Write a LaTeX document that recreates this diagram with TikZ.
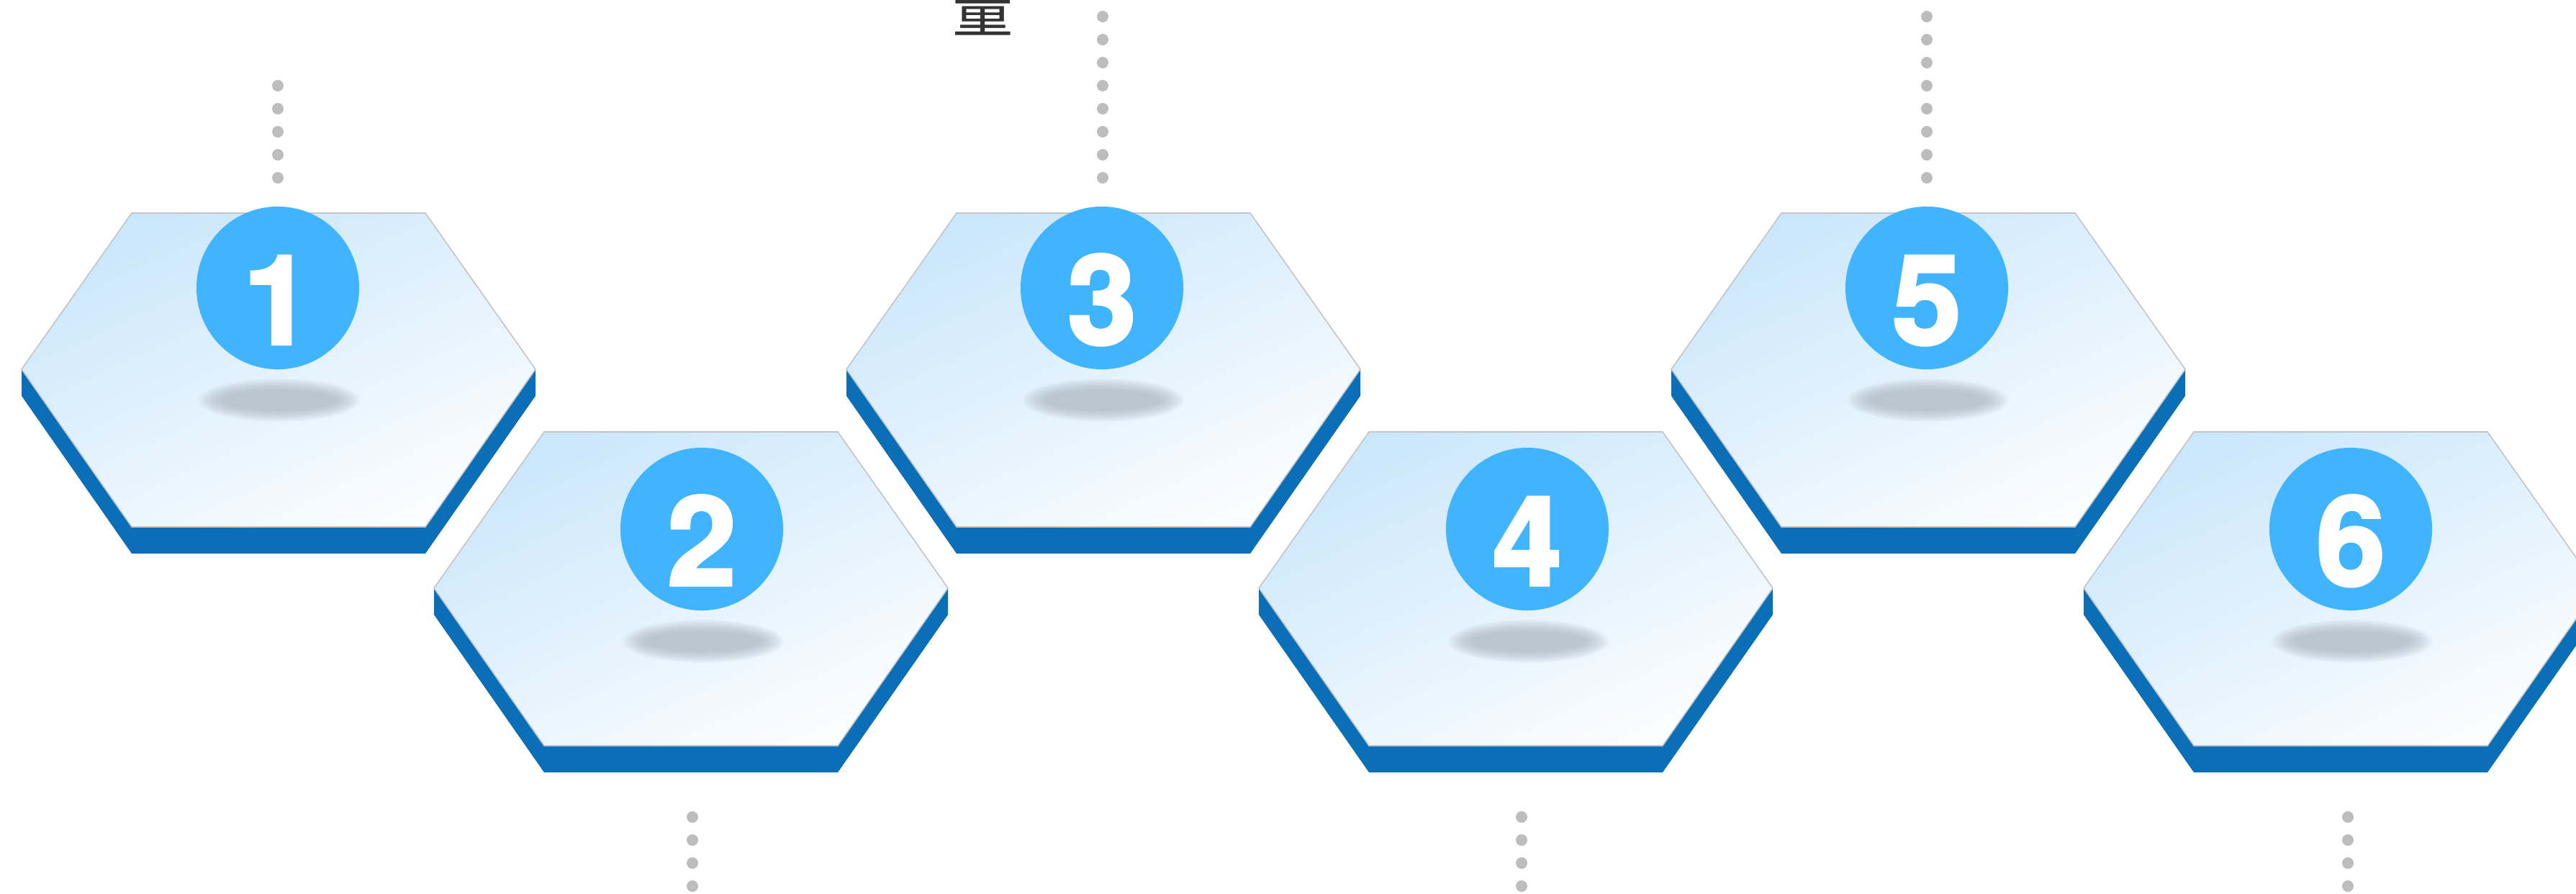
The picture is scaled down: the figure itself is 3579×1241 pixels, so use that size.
\documentclass[tikz,border=0pt]{standalone}
\usepackage{fontspec}
\newfontfamily\numfont{TeX Gyre Heros}[BoldFeatures={FakeBold=2.5}]
\newfontfamily\cjk{Noto Sans CJK SC}
\definecolor{sideblue}{HTML}{0A6FB6}
\definecolor{numblue}{HTML}{40B4FF}
\definecolor{faceTop}{HTML}{CBE7FB}
\definecolor{faceBot}{HTML}{FBFDFF}
\definecolor{hexline}{HTML}{C4C4C4}
\definecolor{dotgray}{HTML}{BDBDBD}
\definecolor{shadowcol}{HTML}{A5AFB9}
\definecolor{txtgray}{HTML}{333333}
\tikzset{
  hexface/.style={draw=hexline, line width=0.45pt, top color=faceTop, bottom color=faceBot, shading angle=25},
  hexside/.style={fill=sideblue},
  numcirc/.style={circle, fill=numblue, minimum size=2.26cm, inner sep=0pt},
  numtext/.style={text=white, anchor=base, inner sep=0pt,
    font=\numfont\bfseries\fontsize{49pt}{49pt}\selectfont},
  dotstyle/.style={fill=dotgray},
  shadowstyle/.style={fill=shadowcol, opacity=0.065}
}
\begin{document}
\begin{tikzpicture}[x=0.01cm,y=-0.01cm]
\useasboundingbox (0,0) rectangle (3579,1241);
\clip (0,0) rectangle (3579,1241);
\fill[white] (0,0) rectangle (3579,1241);
% hexagons
\foreach \i/\cx/\ty in {1/387/296, 2/960/600, 3/1533/296, 4/2106/600, 5/2679/296, 6/3252/600}{
  \fill[hexside] (\cx-357,\ty+217) -- (\cx-204,\ty+436) -- (\cx+204,\ty+436) -- (\cx+357,\ty+217)
     -- (\cx+357,\ty+254) -- (\cx+204,\ty+473) -- (\cx-204,\ty+473) -- (\cx-357,\ty+254) -- cycle;
  \shade[hexface] (\cx-204,\ty) -- (\cx+204,\ty) -- (\cx+357,\ty+217) -- (\cx+204,\ty+436)
     -- (\cx-204,\ty+436) -- (\cx-357,\ty+217) -- cycle;
}
% shadows and number circles
\foreach \i/\x/\y in {1/386/400, 2/975/735, 3/1531/400, 4/2122/735, 5/2677/400, 6/3266/735}{
  \foreach \k in {0,...,13}{
    \fill[shadowstyle] (\x+2,\y+156) ellipse ({112-2.6*\k} and {30-1.3*\k});
  }
  \node[numcirc] (c\i) at (\x,\y) {};
  \node[numtext] (n\i) at (\x,\y+78) {\i};
}
% dotted lines
\foreach \y in {119,151,...,247}{ \fill[dotstyle] (386,\y) circle (8); }
\foreach \x in {1532,2677}{ \foreach \y in {23,55,...,247}{ \fill[dotstyle] (\x,\y) circle (8); } }
\foreach \x in {962,2114,3262}{ \foreach \y in {1135,1167,1199,1231}{ \fill[dotstyle] (\x,\y) circle (8); } }
% clipped label at top
\node[font=\cjk\fontsize{24pt}{24pt}\selectfont, text=txtgray, anchor=base, inner sep=0pt] (lbl) at (1366,44) {量};
\end{tikzpicture}
\end{document}
